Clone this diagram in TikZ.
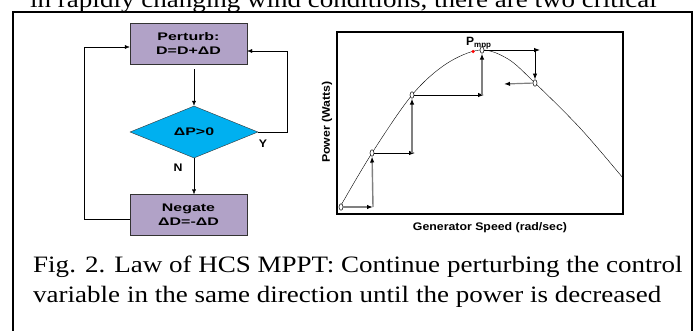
\documentclass[tikz,border=0pt]{standalone}
\usepackage{fontspec}
\setsansfont{Liberation Sans}
\newfontfamily\capserif[FakeStretch=1.15]{Liberation Serif}
\usetikzlibrary{shapes.geometric,arrows.meta}

\definecolor{boxpurple}{RGB}{177,162,199}
\definecolor{deccyan}{RGB}{0,176,240}
\newcommand{\capfont}{\capserif\fontsize{23.5}{30}\selectfont}
\newcommand{\wt}[1]{\scalebox{1.45}[1]{#1}}
\newcommand{\wg}[1]{\scalebox{1.12}[1]{#1}}

\begin{document}
\begin{tikzpicture}[x=1pt, y=-1pt,
  every node/.style={font=\sffamily\bfseries\fontsize{11}{14}\selectfont},
  blk/.style={rectangle, draw=black!80, fill=boxpurple, minimum width=117pt,
    minimum height=41pt, align=center, inner sep=0pt},
  dec/.style={diamond, draw=black!80, fill=deccyan, minimum width=128pt,
    minimum height=52pt, inner sep=0pt},
  flow/.style={-{Latex[length=5pt,width=4pt]}, thin},
  pt/.style={ellipse, draw, fill=white, minimum width=4pt, minimum height=6.5pt,
    inner sep=0pt, line width=0.5pt},
  up/.style={-{Latex[length=6pt,width=4.5pt,color=black]}, gray, line width=1.4pt},
  hgray/.style={-{Latex[length=6pt,width=4.5pt,color=black]}, gray, line width=1.2pt},
  hblack/.style={-{Latex[length=6pt,width=4.5pt]}, line width=0.9pt},
  capline/.style={font=\capfont, anchor=base west, inner sep=0pt}
]
  \useasboundingbox (0,0) rectangle (696,330);

  % text of the page above the figure
  \begin{scope}
    \clip (0,0) rectangle (696,10.5);
    \node[capline] (prev) at (30,7) {in rapidly changing wind conditions, there are two critical};
  \end{scope}
  \draw[line width=2pt] (13,345) -- (13,11.5) -- (691.5,11.5) -- (691.5,345);

  % flow chart
  \node[blk] (perturb) at (188.5,43.5) {\wt{Perturb:}\\\wt{D=D+ΔD}};
  \node[dec] (test) at (194,132) {\wt{ΔP>0}};
  \node[blk] (negate) at (188.5,215) {\wt{Negate}\\\wt{ΔD=-ΔD}};
  \node (ylab) at (263,144) {\wg{Y}};
  \node (nlab) at (178,168) {\wg{N}};
  \draw[flow, shorten <=5pt] (perturb.south -| test.north) -- (test.north);
  \draw[flow] (test.south) -- (test.south |- negate.north);
  \draw[flow] (test.east) -- ++(29,0) |- ([yshift=-7.5pt]perturb.east);
  \draw[flow] ([yshift=-4pt]negate.west) -- ++(-46,0) |- ([yshift=-3.5pt]perturb.west);

  % power curve
  \draw[line width=1.5pt] (337,32) rectangle (623,214);
  \begin{scope}
    \clip (337,32) rectangle (623,214);
    \draw[thin] plot[smooth, tension=0.55] coordinates {(340,207) (372,153) (412,95)
      (446,64) (480,50) (508,59) (535,83) (580,128) (623,178) (630,187)};
  \end{scope}
  \node[circle, fill=red, minimum size=3.5pt, inner sep=0pt] (mpp) at (473,51.5) {};
  \node[anchor=base west, inner sep=0pt] (pmpp) at (466,45)
    {\fontsize{12}{14}\selectfont P\raisebox{-2.5pt}{\fontsize{8}{9}\selectfont mpp}};

  \node[pt] (p1) at (341,207) {};
  \node[pt] (p2) at (372,153) {};
  \node[pt] (p3) at (412,95) {};
  \node[pt] (p4) at (482,50) {};
  \node[pt] (p5) at (535,83) {};

  \coordinate (a1) at (373,207);
  \coordinate (a2) at (415,153);
  \coordinate (b2) at (412,153);
  \coordinate (a3) at (484,95);
  \coordinate (b3) at (482,95);
  \coordinate (a4) at (540,50);
  \coordinate (b4) at (535,50);
  \coordinate (a5) at (504,84);

  \draw[hgray] (p1) -- (a1);
  \draw[up] (a1) -- (p2);
  \draw[hblack] (p2) -- (a2);
  \draw[up] (b2) -- (p3);
  \draw[hblack] (p3) -- (a3);
  \draw[up] (b3) -- (p4);
  \draw[hblack] (p4) -- (a4);
  \draw[hblack] (b4) -- (p5);
  \draw[hgray] (p5) -- (a5);

  \node[rotate=90] (ylabel) at (327,122) {\wg{Power (Watts)}};
  \node (xlabel) at (490,228) {\wg{Generator Speed (rad/sec)}};

  % caption
  \node[capline] (cap1) at (33,272) {Fig. 2. Law of HCS MPPT: Continue perturbing the control};
  \node[capline] (cap2) at (33,302) {variable in the same direction until the power is decreased};
\end{tikzpicture}
\end{document}
